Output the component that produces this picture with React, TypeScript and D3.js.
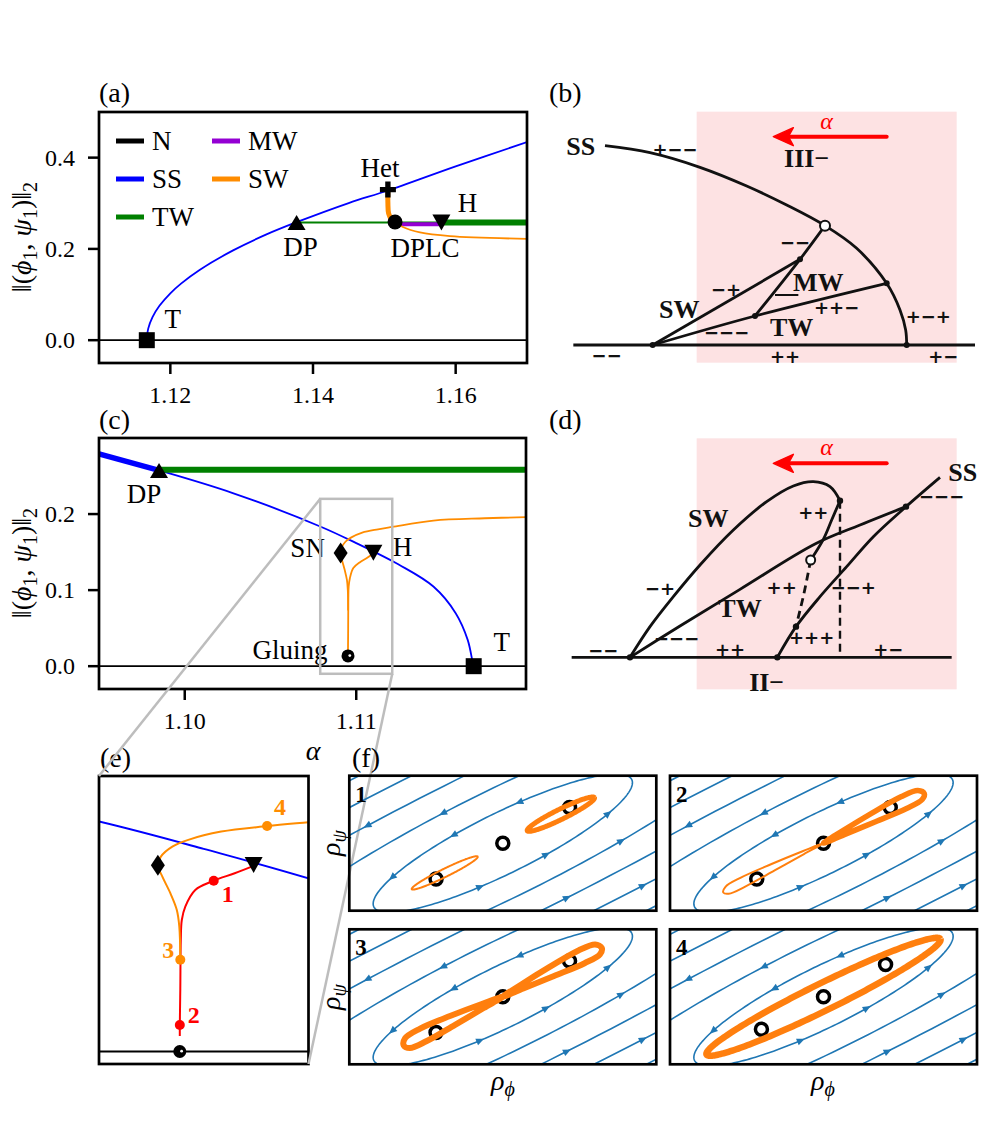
import * as d3 from "d3";

type P = [number, number];

const SERIF = "Liberation Serif, DejaVu Serif, serif";
const SIGNS = "DejaVu Sans, sans-serif";

const BLUE = "#0000ff";
const GREEN = "#008000";
const ORANGE = "#ff8c00";
const PURPLE = "#9400d3";
const RED = "#ff0000";
const STREAM = "#1f77b4";
const LOOP = "#ff7f0e";
const GRAY = "#bdbdbd";
const PINK = "#fde2e3";

// ---------------- panel (a): alpha vs ||(phi1, psi1)||2 ----------------
const aXTicks = [1.12, 1.14, 1.16];
const aYTicks = [0, 0.2, 0.4];
const aN: P[] = [[1.11, 0], [1.17, 0]];
const aSS: P[] = [
  [1.1167, 0], [1.1169, 0.0253], [1.1175, 0.0506], [1.1185, 0.0759], [1.12, 0.1028],
  [1.1215, 0.124], [1.1241, 0.1539], [1.1288, 0.1968], [1.1334, 0.2312], [1.1377, 0.2585],
  [1.145, 0.3005], [1.1505, 0.328], [1.16, 0.381], [1.17, 0.434],
];
const aTWthin: P[] = [[1.1377, 0.258], [1.158, 0.258]];
const aTWthick: P[] = [[1.158, 0.258], [1.17, 0.258]];
const aMW: P[] = [[1.1515, 0.254], [1.158, 0.254]];
const aSWhet: P[] = [[1.1505, 0.33], [1.1505, 0.3], [1.1506, 0.278], [1.151, 0.265], [1.1515, 0.259]];
const aSW: P[] = [[1.1515, 0.259], [1.1526, 0.248], [1.155, 0.236], [1.1592, 0.228], [1.17, 0.222]];
const aMarkers: { name: string; shape: string; p: P }[] = [
  { name: "T", shape: "square", p: [1.1167, 0] },
  { name: "DP", shape: "up", p: [1.1377, 0.258] },
  { name: "Het", shape: "plus", p: [1.1505, 0.33] },
  { name: "DPLC", shape: "circle", p: [1.1515, 0.259] },
  { name: "H", shape: "down", p: [1.158, 0.258] },
];
const aLabelOff: Record<string, P> = { T: [26, -22], DP: [4, 24], Het: [-8, -22], DPLC: [30, 26], H: [26, -20] };
const legendNames = ["N", "SS", "TW", "MW", "SW"];
const legendColors = ["#000000", BLUE, GREEN, PURPLE, ORANGE];

// ---------------- panel (c) ----------------
const cXTicks = [1.1, 1.11];
const cYTicks = [0, 0.1, 0.2];
const cN: P[] = [[1.095, 0], [1.1199, 0]];
const cSS: P[] = [
  [1.095, 0.279], [1.0985, 0.2574], [1.1028, 0.2276], [1.1079, 0.1837], [1.11, 0.1618],
  [1.1125, 0.1333], [1.1145, 0.1047], [1.1158, 0.0697], [1.1165, 0.0346], [1.1168, 0.004], [1.11685, 0],
];
const cSSthick: P[] = [[1.095, 0.279], [1.0985, 0.2574]];
const cTW: P[] = [[1.0985, 0.2583], [1.1199, 0.2583]];
// SW branch through SN (upper) and branch from H (lower)
const swUpper: P[] = [
  [1.12, 0.196], [1.1175, 0.1945], [1.1145, 0.1915], [1.1121, 0.1831], [1.11127, 0.18],
  [1.11035, 0.1756], [1.10969, 0.169], [1.10937, 0.1636], [1.10914, 0.1556], [1.10908, 0.1487],
  [1.10917, 0.1396], [1.10933, 0.1264], [1.10946, 0.113], [1.10951, 0.0997], [1.10953, 0.0732],
];
const swLower: P[] = [
  [1.111, 0.1482], [1.11062, 0.1423], [1.1102, 0.1364], [1.10983, 0.129], [1.10963, 0.1157],
  [1.10956, 0.105], [1.10954, 0.089], [1.10953, 0.05], [1.10952, 0.0212], [1.10952, 0.0124],
];
const cMarkers: { name: string; shape: string; p: P }[] = [
  { name: "DP", shape: "up", p: [1.0985, 0.2574] },
  { name: "SN", shape: "diamond", p: [1.10909, 0.1487] },
  { name: "H", shape: "down", p: [1.111, 0.149] },
  { name: "Gluing", shape: "glue", p: [1.10952, 0.0135] },
  { name: "T", shape: "square", p: [1.11685, 0] },
];
const cLabelOff: Record<string, P> = { DP: [-15, 23], SN: [-33, -6], H: [29, -6], Gluing: [-58, -6], T: [28, -25] };

// ---------------- panel (e): zoom of (c) ----------------
const zoomX: P = [1.1079, 1.1121];
const zoomY: P = [-0.01, 0.22];
const eMarkers: { shape: string; p: P }[] = [
  { shape: "diamond", p: [1.10908, 0.1487] },
  { shape: "down", p: [1.111, 0.149] },
  { shape: "glue", p: [1.10952, 0.0] },
];
const ePoints: { n: string; p: P; red: boolean }[] = [
  { n: "1", p: [1.1102, 0.1364], red: true },
  { n: "2", p: [1.10952, 0.0212], red: true },
  { n: "3", p: [1.10953, 0.0732], red: false },
  { n: "4", p: [1.11127, 0.18], red: false },
];
const eLabelOff: Record<string, P> = { "1": [14, 13], "2": [14, -10], "3": [-12, -10], "4": [13, -19] };

// ---------------- schematics (b) and (d), in sketch units ----------------
const bSS: P[] = [[195, 197], [330, 218], [480, 262], [620, 318], [740, 375], [855, 437], [950, 505], [1040, 610], [1080, 690], [1097, 750], [1100, 795]];
const bBase: P[] = [[100, 795], [1305, 795]];
const bSW: P[] = [[338, 795], [780, 538]];
const bTW: P[] = [[338, 795], [645, 708], [1040, 610]];
const bMW: P[] = [[855, 437], [780, 538], [645, 708]];
const bUnder: P[] = [[705, 645], [775, 645]];
const bNodes: P[] = [[338, 795], [780, 538], [645, 708], [1040, 610], [1100, 795]];
const bOpen: P[] = [[855, 437]];
const bText: [string, number, number, boolean][] = [
  ["SS", 122, 197, true], ["+−−", 405, 208, false], ["III−", 800, 235, true], ["−−", 765, 487, false],
  ["−+", 558, 628, false], ["MW", 835, 605, true], ["SW", 418, 688, true], ["++−", 890, 683, false],
  ["TW", 755, 742, true], ["−−−", 560, 757, false], ["+−+", 1165, 710, false], ["−−", 200, 828, false],
  ["++", 735, 830, false], ["+−", 1210, 830, false],
];
const dBase: P[] = [[95, 832], [1235, 832]];
const dSS: P[] = [[712, 832], [768, 740], [840, 650], [920, 560], [1000, 470], [1098, 380], [1200, 292]];
const dSW: P[] = [[270, 832], [330, 740], [400, 650], [480, 555], [580, 450], [680, 365], [760, 318], [820, 305], [870, 320], [900, 362]];
const dSWmid: P[] = [[900, 362], [875, 420], [850, 478], [812, 540]];
const dSWdash: P[] = [[812, 540], [792, 640], [768, 740]];
const dTW: P[] = [[270, 832], [420, 738], [600, 628], [825, 492], [960, 435], [1098, 380]];
const dVert: P[] = [[900, 362], [900, 832]];
const dNodes: P[] = [[270, 832], [712, 832], [900, 362], [1098, 380], [768, 740]];
const dOpen: P[] = [[812, 540]];
const dText: [string, number, number, boolean][] = [
  ["SS", 1268, 275, true], ["−−−", 1205, 350, false], ["SW", 505, 415, true], ["++", 820, 397, false],
  ["−+", 360, 625, false], ["++", 725, 622, false], ["−−+", 940, 622, false], ["TW", 600, 685, true],
  ["+++", 815, 772, false], ["−−−", 410, 775, false], ["−−", 190, 812, false], ["++", 570, 810, false],
  ["+−", 1045, 808, false], ["II−", 680, 905, true],
];
const pinkBox: [P, P] = [[470, 0], [1250, 0]];

// ---------------- panel (f): phase portraits ----------------
const fX: P = [-2.3, 2.3];
const fY: P = [-1, 1];
const streamA = [2.15, 4.5, 8, 12, 16, 20, 24];
const streamB = [0.45, 0.8, 1.15, 1.5, 1.85, 2.2, 2.55];
const arrowS = [-1.7, -0.6, 0.5, 1.6];
const eqPts: P[][] = [
  [[-1, -0.53], [0, 0], [1, 0.53]],
  [[-1, -0.53], [0, 0], [1, 0.53]],
  [[-1, -0.53], [0, 0], [1, 0.53]],
  [[-0.93, -0.48], [0, 0], [0.93, 0.48]],
];
type Loop = { kind: "ellipse" | "leaf"; c: P; a: number; b: number };
const loops: Loop[][] = [
  [{ kind: "ellipse", c: [-0.87, -0.44], a: 0.55, b: 0.06 }, { kind: "ellipse", c: [0.87, 0.43], a: 0.56, b: 0.075 }],
  [{ kind: "leaf", c: [0, 0], a: -1.67, b: 0.085 }, { kind: "leaf", c: [0, 0], a: 1.68, b: 0.11 }],
  [{ kind: "leaf", c: [0, 0], a: -1.65, b: 0.12 }, { kind: "leaf", c: [0, 0], a: 1.65, b: 0.12 }],
  [{ kind: "ellipse", c: [0, 0], a: 1.95, b: 0.2 }],
];
const loopWidth = [[2, 5], [2, 5.5], [6, 6], [6.5]];
const leafShape: P[] = [[0, 0], [0.2, 0.35], [0.5, 0.75], [0.8, 1], [0.96, 0.75], [1, 0], [0.96, -0.6], [0.8, -0.75], [0.5, -0.5], [0.2, -0.2]];

const PHI = (26 * Math.PI) / 180;
const rot = (s: number, t: number, c: P): P => [
  c[0] + s * Math.cos(PHI) - t * Math.sin(PHI),
  c[1] + s * Math.sin(PHI) + t * Math.cos(PHI),
];

function markerPath(shape: string, w: number, h: number): string {
  switch (shape) {
    case "square":
      return `M${-w / 2},${-h / 2}h${w}v${h}h${-w}Z`;
    case "up":
      return `M0,${-h / 2}L${w / 2},${h / 2}L${-w / 2},${h / 2}Z`;
    case "down":
      return `M0,${h / 2}L${w / 2},${-h / 2}L${-w / 2},${-h / 2}Z`;
    case "diamond":
      return `M0,${-h / 2}L${w / 2},0L0,${h / 2}L${-w / 2},0Z`;
    case "plus": {
      const a = w / 2, b = w / 6;
      return `M${-b},${-a}H${b}V${-b}H${a}V${b}H${b}V${a}H${-b}V${b}H${-a}V${-b}H${-b}Z`;
    }
    default:
      return "";
  }
}
const markerSize: Record<string, P> = { square: [16, 16], up: [18, 15], down: [18, 16], diamond: [14, 21], plus: [16, 16] };

function Marker({ shape, x, y }: { shape: string; x: number; y: number }) {
  if (shape === "circle") return <circle cx={x} cy={y} r={7.5} fill="black" />;
  if (shape === "glue")
    return (
      <g>
        <circle cx={x} cy={y} r={6.5} fill="black" />
        <circle cx={x + 1.8} cy={y - 0.3} r={1.4} fill="white" />
      </g>
    );
  const [w, h] = markerSize[shape];
  return <path d={markerPath(shape, w, h)} transform={`translate(${x},${y})`} fill="black" />;
}

function Frame({ xs, ys, xTicks, yTicks, xFmt, yFmt }: any) {
  const [l, r] = xs.range();
  const [b, t] = ys.range();
  return (
    <g>
      {xTicks.map((v: number) => (
        <g key={"x" + v}>
          <line x1={xs(v)} x2={xs(v)} y1={b} y2={b + 11} stroke="black" strokeWidth={2.5} />
          <text x={xs(v)} y={b + 40} textAnchor="middle" fontFamily={SERIF} fontSize={24}>{xFmt(v)}</text>
        </g>
      ))}
      {yTicks.map((v: number) => (
        <g key={"y" + v}>
          <line x1={l - 11} x2={l} y1={ys(v)} y2={ys(v)} stroke="black" strokeWidth={2.5} />
          <text x={l - 24} y={ys(v)} dy="0.34em" textAnchor="end" fontFamily={SERIF} fontSize={24}>{yFmt(v)}</text>
        </g>
      ))}
      <rect x={l} y={t} width={r - l} height={b - t} fill="none" stroke="black" strokeWidth={2.7} />
    </g>
  );
}

function NormLabel({ cx, cy }: { cx: number; cy: number }) {
  return (
    <text transform={`translate(${cx},${cy}) rotate(-90)`} textAnchor="middle" fontFamily={SERIF} fontSize={28}>
      ‖(<tspan fontStyle="italic">ϕ</tspan>
      <tspan fontSize={20} dy={6}>1</tspan>
      <tspan dy={-6}>, </tspan>
      <tspan fontStyle="italic">ψ</tspan>
      <tspan fontSize={20} dy={6}>1</tspan>
      <tspan dy={-6}>)‖</tspan>
      <tspan fontSize={20} dy={6}>2</tspan>
    </text>
  );
}

function PanelLabel({ x, y, t }: { x: number; y: number; t: string }) {
  return (
    <text x={x} y={y} fontFamily={SERIF} fontSize={28}>({t})</text>
  );
}

function Schematic({ sx, sy, parts, text, pinkTop, pinkBottom, arrowY }: any) {
  const line = d3.line<P>().x((d) => sx(d[0])).y((d) => sy(d[1])).curve(d3.curveCatmullRom.alpha(0.5));
  const ax0 = sx(1040), ax1 = sx(700), ay = sy(arrowY);
  return (
    <g>
      <rect x={sx(pinkBox[0][0])} y={sy(pinkTop)} width={sx(pinkBox[1][0]) - sx(pinkBox[0][0])} height={sy(pinkBottom) - sy(pinkTop)} fill={PINK} />
      <line x1={ax0} x2={ax1 + 14} y1={ay} y2={ay} stroke={RED} strokeWidth={4} strokeLinecap="round" />
      <path d={`M${ax1},${ay}L${ax1 + 20},${ay - 9}L${ax1 + 15},${ay}L${ax1 + 20},${ay + 9}Z`} fill={RED} stroke={RED} strokeWidth={1.5} strokeLinejoin="round" />
      <text x={sx(860)} y={ay - 8} textAnchor="middle" fontFamily={SERIF} fontStyle="italic" fontSize={24} fill={RED}>α</text>
      {parts.map((p: any, i: number) => (
        <path key={i} d={line(p.pts) || ""} fill="none" stroke="#111" strokeWidth={p.w ?? 2.8} strokeDasharray={p.dash ? "8,5" : undefined} />
      ))}
      {text.map(([s, x, y, name]: [string, number, number, boolean], i: number) => (
        <text key={"t" + i} x={sx(x)} y={sy(y)} dy="0.35em" textAnchor="middle"
          fontFamily={name ? SERIF : SIGNS} fontWeight="bold" fontSize={name ? 26 : 18} fill="#111">{s}</text>
      ))}
    </g>
  );
}

function PhasePanel({ idx, x0, y0 }: { idx: number; x0: number; y0: number }) {
  const w = 307, h = 135;
  const sx = d3.scaleLinear().domain(fX).range([x0, x0 + w]);
  const sy = d3.scaleLinear().domain(fY).range([y0 + h, y0]);
  const line = d3.line<P>().x((d) => sx(d[0])).y((d) => sy(d[1]));
  const closed = d3.line<P>().x((d) => sx(d[0])).y((d) => sy(d[1])).curve(d3.curveCatmullRomClosed.alpha(0.5));
  const thetas = d3.range(0, 2 * Math.PI + 0.01, Math.PI / 120);
  const kx = w / (fX[1] - fX[0]), ky = h / (fY[1] - fY[0]);
  const arrows: string[] = [];
  streamA.forEach((a, k) => {
    const b = streamB[k];
    arrowS.forEach((s, j) => {
      if (Math.abs(s) >= a * 0.95) return;
      [1, -1].forEach((side) => {
        const ct = s / a, st = side * Math.sqrt(1 - ct * ct);
        const wp = rot(a * ct, b * st, [0, 0]);
        const ld: P = [-a * st, b * ct];
        const wd: P = [ld[0] * Math.cos(PHI) - ld[1] * Math.sin(PHI), ld[0] * Math.sin(PHI) + ld[1] * Math.cos(PHI)];
        if (wp[0] < fX[0] + 0.1 || wp[0] > fX[1] - 0.1 || wp[1] < fY[0] + 0.06 || wp[1] > fY[1] - 0.06) return;
        if ((k + j) % 2 === 1 && k > 0) return;
        let ux = wd[0] * kx, uy = -wd[1] * ky;
        const n = Math.hypot(ux, uy);
        ux /= n; uy /= n;
        const px = sx(wp[0]), py = sy(wp[1]);
        const tip = [px + ux * 5, py + uy * 5];
        const bl = [px - ux * 3 - uy * 3.5, py - uy * 3 + ux * 3.5];
        const br = [px - ux * 3 + uy * 3.5, py - uy * 3 - ux * 3.5];
        arrows.push(`M${tip[0]},${tip[1]}L${bl[0]},${bl[1]}L${br[0]},${br[1]}Z`);
      });
    });
  });
  const clipId = `fclip${idx}`;
  return (
    <g>
      <clipPath id={clipId}>
        <rect x={x0} y={y0} width={w} height={h} />
      </clipPath>
      <g clipPath={`url(#${clipId})`}>
        {streamA.map((a, k) => (
          <path key={k} d={line(thetas.map((t) => rot(a * Math.cos(t), streamB[k] * Math.sin(t), [0, 0]))) || ""}
            fill="none" stroke={STREAM} strokeWidth={1.6} />
        ))}
        {arrows.map((d, i) => <path key={"a" + i} d={d} fill={STREAM} />)}
        {eqPts[idx].map((p, i) => (
          <circle key={"e" + i} cx={sx(p[0])} cy={sy(p[1])} r={6} fill="white" stroke="black" strokeWidth={3.5} />
        ))}
        {loops[idx].map((L, i) => {
          const pts: P[] = L.kind === "ellipse"
            ? thetas.map((t) => rot(L.a * Math.cos(t), L.b * Math.sin(t), L.c))
            : leafShape.map(([s, t]) => rot(s * L.a, t * L.b, L.c));
          const d = L.kind === "ellipse" ? line(pts) : closed(pts);
          return <path key={"l" + i} d={d || ""} fill="none" stroke={LOOP} strokeWidth={loopWidth[idx][i]} strokeLinejoin="round" />;
        })}
      </g>
      <rect x={x0} y={y0} width={w} height={h} fill="none" stroke="black" strokeWidth={2.7} />
      <text x={x0 + 6} y={y0 + 26} fontFamily={SERIF} fontWeight="bold" fontSize={23}>{idx + 1}</text>
    </g>
  );
}

export default function App() {
  const xa = d3.scaleLinear().domain([1.11, 1.17]).range([99, 527]);
  const ya = d3.scaleLinear().domain([-0.05, 0.5]).range([363, 112]);
  const xc = d3.scaleLinear().domain([1.095, 1.1199]).range([99, 526]);
  const yc = d3.scaleLinear().domain([-0.03, 0.3]).range([689, 438]);
  const xe = d3.scaleLinear().domain(zoomX).range([99, 308.5]);
  const ye = d3.scaleLinear().domain(zoomY).range([1064, 776]);

  const mk = (x: any, y: any) =>
    d3.line<P>().x((d) => x(d[0])).y((d) => y(d[1])).curve(d3.curveCatmullRom.alpha(0.5));
  const la = mk(xa, ya), lc = mk(xc, yc), le = mk(xe, ye);

  const bsx = d3.scaleLinear().domain([0, 1350]).range([540, 990]);
  const bsy = d3.scaleLinear().domain([0, 900]).range([80, 380]);
  const dsx = d3.scaleLinear().domain([0, 1350]).range([540, 990]);
  const dsy = d3.scaleLinear().domain([0, 990]).range([380, 710]);

  const f2 = d3.format(".2f"), f1 = d3.format(".1f");

  const rx0 = xc(zoomX[0]), rx1 = xc(zoomX[1]), ry0 = yc(zoomY[1]), ry1 = yc(zoomY[0]);

  return (
    <svg width={996} height={1121} style={{ position: "absolute", left: 0, top: 0, background: "white" }}>
      <rect width={996} height={1121} fill="white" />
      <defs>
        <clipPath id="clipA"><rect x={99} y={112} width={428} height={251} /></clipPath>
        <clipPath id="clipC"><rect x={99} y={438} width={427} height={251} /></clipPath>
        <clipPath id="clipE"><rect x={99} y={776} width={209.5} height={288} /></clipPath>
      </defs>

      {/* ---------- (a) ---------- */}
      <PanelLabel x={99} y={102} t="a" />
      <g clipPath="url(#clipA)">
        <path d={la(aN) || ""} fill="none" stroke="black" strokeWidth={1.8} />
        <path d={la(aSS) || ""} fill="none" stroke={BLUE} strokeWidth={1.8} />
        <path d={la(aTWthin) || ""} fill="none" stroke={GREEN} strokeWidth={2} />
        <path d={la(aMW) || ""} fill="none" stroke={PURPLE} strokeWidth={4} />
        <path d={la(aSW) || ""} fill="none" stroke={ORANGE} strokeWidth={1.8} />
        <path d={la(aTWthick) || ""} fill="none" stroke={GREEN} strokeWidth={6} />
        <path d={la(aSWhet) || ""} fill="none" stroke={ORANGE} strokeWidth={5} />
      </g>
      <Frame xs={xa} ys={ya} xTicks={aXTicks} yTicks={aYTicks} xFmt={f2} yFmt={f1} />
      {aMarkers.map((m) => (
        <g key={m.name}>
          <Marker shape={m.shape} x={xa(m.p[0])} y={ya(m.p[1])} />
          <text x={xa(m.p[0]) + aLabelOff[m.name][0]} y={ya(m.p[1]) + aLabelOff[m.name][1]} dy="0.35em"
            textAnchor="middle" fontFamily={SERIF} fontSize={27}>{m.name}</text>
        </g>
      ))}
      {legendNames.map((n, i) => {
        const col = i < 3 ? 0 : 1, row = i < 3 ? i : i - 3;
        const x = 116 + col * 96, y = 141 + row * 38;
        return (
          <g key={n}>
            <line x1={x} x2={x + 28} y1={y} y2={y} stroke={legendColors[i]} strokeWidth={5} />
            <text x={x + 36} y={y} dy="0.35em" fontFamily={SERIF} fontSize={27}>{n}</text>
          </g>
        );
      })}
      <NormLabel cx={31} cy={237} />

      {/* ---------- (b) ---------- */}
      <PanelLabel x={549} y={102} t="b" />
      <Schematic sx={bsx} sy={bsy} pinkTop={95} pinkBottom={848} arrowY={170}
        parts={[{ pts: bBase }, { pts: bSS }, { pts: bSW }, { pts: bTW }, { pts: bMW }, { pts: bUnder, w: 2 }]}
        text={bText} />
      {bNodes.map((p, i) => <circle key={"bn" + i} cx={bsx(p[0])} cy={bsy(p[1])} r={3} fill="#111" />)}
      {bOpen.map((p, i) => <circle key={"bo" + i} cx={bsx(p[0])} cy={bsy(p[1])} r={5} fill="white" stroke="#111" strokeWidth={2} />)}

      {/* ---------- (c) ---------- */}
      <PanelLabel x={99} y={429} t="c" />
      <g clipPath="url(#clipC)">
        <path d={lc(cN) || ""} fill="none" stroke="black" strokeWidth={1.8} />
        <path d={lc(cSS) || ""} fill="none" stroke={BLUE} strokeWidth={1.8} />
        <path d={lc(cSSthick) || ""} fill="none" stroke={BLUE} strokeWidth={5.5} />
        <path d={lc(cTW) || ""} fill="none" stroke={GREEN} strokeWidth={6} />
        <path d={lc(swUpper) || ""} fill="none" stroke={ORANGE} strokeWidth={1.8} />
        <path d={lc(swLower) || ""} fill="none" stroke={ORANGE} strokeWidth={1.8} />
      </g>
      <Frame xs={xc} ys={yc} xTicks={cXTicks} yTicks={cYTicks} xFmt={f2} yFmt={f1} />
      {cMarkers.map((m) => (
        <g key={m.name}>
          <Marker shape={m.shape} x={xc(m.p[0])} y={yc(m.p[1])} />
          <text x={xc(m.p[0]) + cLabelOff[m.name][0]} y={yc(m.p[1]) + cLabelOff[m.name][1]} dy="0.35em"
            textAnchor="middle" fontFamily={SERIF} fontSize={27}>{m.name}</text>
        </g>
      ))}
      <rect x={rx0} y={ry0} width={rx1 - rx0} height={ry1 - ry0} fill="none" stroke={GRAY} strokeWidth={2.5} />
      <NormLabel cx={31} cy={563} />
      <text x={313} y={760} textAnchor="middle" fontFamily={SERIF} fontStyle="italic" fontSize={28}>α</text>

      {/* ---------- (d) ---------- */}
      <PanelLabel x={549} y={429} t="d" />
      <Schematic sx={dsx} sy={dsy} pinkTop={175} pinkBottom={928} arrowY={250}
        parts={[{ pts: dBase }, { pts: dSS }, { pts: dSW }, { pts: dSWmid }, { pts: dSWdash, dash: true },
          { pts: dTW }, { pts: dVert, dash: true, w: 2.4 }]}
        text={dText} />
      {dNodes.map((p, i) => <circle key={"dn" + i} cx={dsx(p[0])} cy={dsy(p[1])} r={3.2} fill="#111" />)}
      {dOpen.map((p, i) => <circle key={"do" + i} cx={dsx(p[0])} cy={dsy(p[1])} r={4.5} fill="white" stroke="#111" strokeWidth={2} />)}

      {/* ---------- (e) ---------- */}
      <PanelLabel x={100} y={767} t="e" />
      <g clipPath="url(#clipE)">
        <path d={le(cN) || ""} fill="none" stroke="black" strokeWidth={1.8} />
        <path d={le(cSS) || ""} fill="none" stroke={BLUE} strokeWidth={2} />
        <path d={le(swLower) || ""} fill="none" stroke={RED} strokeWidth={2} />
        <path d={le(swUpper) || ""} fill="none" stroke={ORANGE} strokeWidth={2} />
      </g>
      {ePoints.map((p) => (
        <g key={p.n}>
          <circle cx={xe(p.p[0])} cy={ye(p.p[1])} r={5} fill={p.red ? RED : ORANGE} />
          <text x={xe(p.p[0]) + eLabelOff[p.n][0]} y={ye(p.p[1]) + eLabelOff[p.n][1]} dy="0.35em" textAnchor="middle"
            fontFamily={SERIF} fontWeight="bold" fontSize={24} fill={p.red ? RED : ORANGE}>{p.n}</text>
        </g>
      ))}
      {eMarkers.map((m, i) => <Marker key={"em" + i} shape={m.shape} x={xe(m.p[0])} y={ye(m.p[1])} />)}
      <rect x={99} y={776} width={209.5} height={288} fill="none" stroke="black" strokeWidth={2.7} />

      {/* connector lines of the inset */}
      <line x1={rx0} y1={ry0} x2={99} y2={776} stroke={GRAY} strokeWidth={2.5} />
      <line x1={rx1} y1={ry1} x2={308.5} y2={1064} stroke={GRAY} strokeWidth={2.5} />

      {/* ---------- (f) ---------- */}
      <PanelLabel x={352} y={767} t="f" />
      <PhasePanel idx={0} x0={349.3} y0={775.7} />
      <PhasePanel idx={1} x0={670} y0={775.7} />
      <PhasePanel idx={2} x0={349.3} y0={929.3} />
      <PhasePanel idx={3} x0={670} y0={929.3} />
      {[843, 997].map((cy) => (
        <text key={"rp" + cy} transform={`translate(340,${cy}) rotate(-90)`} textAnchor="middle" fontFamily={SERIF}
          fontStyle="italic" fontSize={28}>ρ<tspan fontSize={20} dy={6}>ψ</tspan></text>
      ))}
      {[503, 823].map((cx) => (
        <text key={"rf" + cx} x={cx} y={1090} textAnchor="middle" fontFamily={SERIF} fontStyle="italic" fontSize={28}>
          ρ<tspan fontSize={20} dy={6}>ϕ</tspan>
        </text>
      ))}
    </svg>
  );
}
